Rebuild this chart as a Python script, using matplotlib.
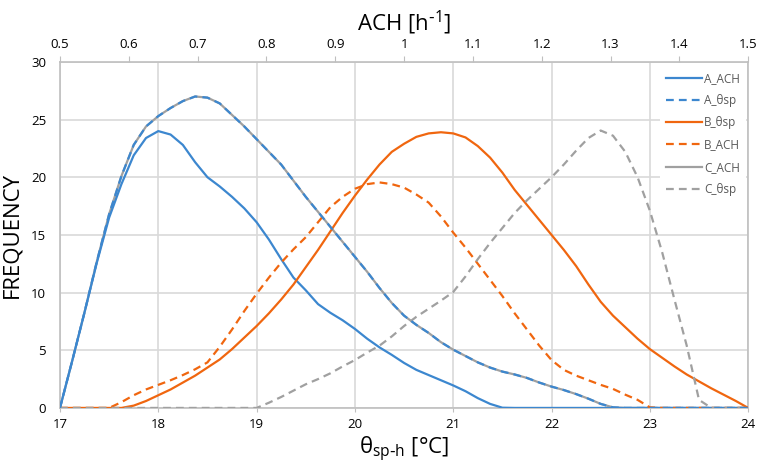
import matplotlib.pyplot as plt

plt.rcParams['font.family'] = ['Open Sans', 'DejaVu Sans']

# temperatura de consigna (eje inferior), paso 0.125 °C
theta = [17.0, 17.125, 17.25, 17.375, 17.5, 17.625, 17.75, 17.875,
         18.0, 18.125, 18.25, 18.375, 18.5, 18.625, 18.75, 18.875,
         19.0, 19.125, 19.25, 19.375, 19.5, 19.625, 19.75, 19.875,
         20.0, 20.125, 20.25, 20.375, 20.5, 20.625, 20.75, 20.875,
         21.0, 21.125, 21.25, 21.375, 21.5, 21.625, 21.75, 21.875,
         22.0, 22.125, 22.25, 22.375, 22.5, 22.625, 22.75, 22.875,
         23.0, 23.125, 23.25, 23.375, 23.5, 23.625, 23.75, 23.875, 24.0]

a_ach = [0, 4.1, 8.3, 12.6, 16.5, 19.4, 21.9, 23.4,
         24.0, 23.7, 22.8, 21.3, 20.0, 19.2, 18.3, 17.3,
         16.1, 14.6, 12.9, 11.3, 10.2, 9.0, 8.25, 7.6,
         6.85, 6.0, 5.25, 4.6, 3.9, 3.3, 2.85, 2.4,
         1.95, 1.45, 0.85, 0.35, 0.02, 0, 0, 0,
         0, 0, 0, 0, 0, 0, 0, 0,
         0, 0, 0, 0, 0, 0, 0, 0, 0]
a_theta = [0, 4.1, 8.3, 12.7, 16.8, 20.1, 22.8, 24.4,
           25.3, 26.0, 26.6, 27.0, 26.9, 26.4, 25.4, 24.4,
           23.3, 22.2, 21.1, 19.7, 18.3, 17.0, 15.7, 14.4,
           13.1, 11.8, 10.4, 9.1, 8.0, 7.2, 6.5, 5.7,
           5.05, 4.5, 3.95, 3.5, 3.15, 2.9, 2.6, 2.2,
           1.85, 1.55, 1.2, 0.8, 0.35, 0.05, 0, 0,
           0, 0, 0, 0, 0, 0, 0, 0, 0]
b_theta = [0, 0, 0, 0, 0, 0, 0.2, 0.6,
           1.1, 1.6, 2.2, 2.8, 3.5, 4.2, 5.1, 6.1,
           7.1, 8.2, 9.4, 10.7, 12.2, 13.7, 15.3, 16.9,
           18.4, 19.8, 21.1, 22.2, 22.9, 23.5, 23.8, 23.9,
           23.8, 23.45, 22.7, 21.7, 20.4, 18.9, 17.6, 16.3,
           15.0, 13.7, 12.3, 10.7, 9.2, 8.0, 7.0, 6.0,
           5.1, 4.35, 3.6, 2.9, 2.3, 1.7, 1.15, 0.6, 0]
b_ach = [0, 0, 0, 0, 0, 0.5, 1.1, 1.6,
         2.0, 2.4, 2.85, 3.35, 3.95, 5.3, 6.8, 8.4,
         9.9, 11.3, 12.6, 13.75, 14.8, 16.1, 17.4, 18.3,
         19.0, 19.4, 19.55, 19.4, 19.1, 18.5, 17.8, 16.6,
         15.2, 13.9, 12.5, 11.1, 9.7, 8.2, 6.8, 5.4,
         4.15, 3.3, 2.8, 2.4, 2.0, 1.65, 1.15, 0.7,
         0.05, 0, 0, 0, 0, 0, 0, 0, 0]
c_ach = a_theta  # coincide con A_θsp
c_theta = [0, 0, 0, 0, 0, 0, 0, 0,
           0, 0, 0, 0, 0, 0, 0, 0,
           0, 0.45, 0.95, 1.5, 2.05, 2.5, 3.0, 3.6,
           4.15, 4.8, 5.4, 6.2, 7.1, 7.9, 8.6, 9.3,
           10.05, 11.4, 12.9, 14.3, 15.6, 16.9, 18.0, 19.0,
           20.0, 21.1, 22.3, 23.4, 24.05, 23.6, 22.2, 20.0,
           17.1, 13.5, 9.4, 5.4, 0.7, 0, 0, 0, 0]

ach_ticks = [0.5, 0.6, 0.7, 0.8, 0.9, 1.0, 1.1, 1.2, 1.3, 1.4, 1.5]

BLUE = '#3C87CF'
ORANGE = '#F0660F'
GRAY = '#A0A0A0'
DASH = (0, (3.5, 2.3))

fig, ax = plt.subplots(figsize=(7.65, 4.76), dpi=100)
fig.subplots_adjust(left=0.0784, right=0.978, bottom=0.143, top=0.870)

lw = 1.6
ax.plot(theta, a_ach, color=BLUE, lw=lw, label='A_ACH', zorder=3)
ax.plot(theta, c_ach, color=GRAY, lw=lw, label='C_ACH', zorder=2)
ax.plot(theta, a_theta, color=BLUE, lw=lw, ls=DASH, label='A_θsp', zorder=4)
ax.plot(theta, b_theta, color=ORANGE, lw=lw, label='B_θsp', zorder=3)
ax.plot(theta, b_ach, color=ORANGE, lw=lw, ls=DASH, label='B_ACH', zorder=3)
ax.plot(theta, c_theta, color=GRAY, lw=lw, ls=DASH, label='C_θsp', zorder=3)

ax.set_xlim(17, 24)
ax.set_ylim(0, 30)
ax.set_xticks(range(17, 25))
ax.set_yticks(range(0, 31, 5))
ax.grid(True, color='#D9D9D9', lw=1.2)
ax.set_axisbelow(True)
for s in ax.spines.values():
    s.set_color('#BFBFBF')
    s.set_linewidth(1.2)
ax.tick_params(axis='x', length=3, color='#BFBFBF', labelsize=9.5, pad=4)
ax.tick_params(axis='y', length=0, labelsize=9.5, pad=10)

ax.set_ylabel('FREQUENCY', fontsize=16, labelpad=6)
ax.set_xlabel(r'θ$_{\mathregular{sp\text{-}h}}$ [°C]', fontsize=16, labelpad=3)

top = ax.twiny()
top.set_xlim(0.5, 1.5)
top.set_xticks(ach_ticks)
top.set_xticklabels([f'{v:g}' for v in ach_ticks])
top.tick_params(axis='x', length=4, color='#BFBFBF', labelsize=9.5, pad=4)
for s in top.spines.values():
    s.set_visible(False)
top.set_xlabel(r'ACH [h$^{\mathregular{\text{-}1}}$]', fontsize=16, labelpad=5)

handles, labels = ax.get_legend_handles_labels()
order = ['A_ACH', 'A_θsp', 'B_θsp', 'B_ACH', 'C_ACH', 'C_θsp']
hmap = dict(zip(labels, handles))
leg = ax.legend([hmap[k] for k in order], order, loc='upper right',
                bbox_to_anchor=(1.0, 0.995), frameon=True, fancybox=False,
                edgecolor='none', facecolor='white', framealpha=1,
                fontsize=8.5, handlelength=3.0, handletextpad=0.2,
                labelspacing=0.78, borderpad=0.5, borderaxespad=0.2)
for t in leg.get_texts():
    t.set_color('#595959')
leg.set_zorder(5)

fig.savefig('out.png', dpi=100, facecolor='white')
